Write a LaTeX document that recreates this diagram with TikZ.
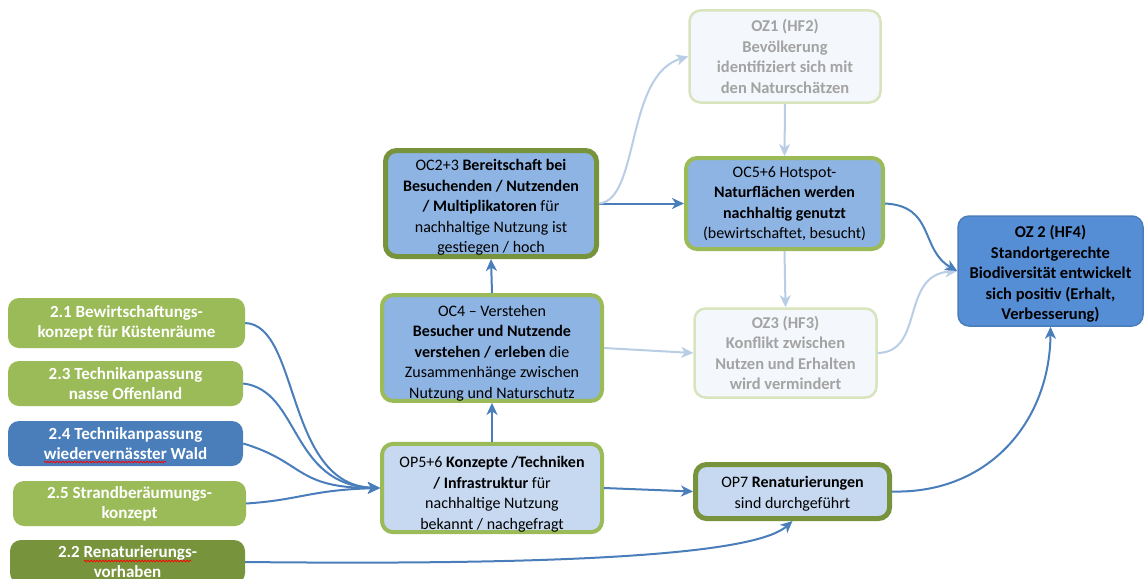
\documentclass[tikz,border=0pt]{standalone}
\usepackage{fontspec}
\setmainfont{Carlito}
\usetikzlibrary{arrows.meta,decorations.pathmorphing}

\definecolor{lgreen}{HTML}{9BBB59}
\definecolor{dgreen}{HTML}{77933C}
\definecolor{midblue}{HTML}{8EB4E3}
\definecolor{paleblue}{HTML}{C6D9F1}
\definecolor{goalblue}{HTML}{558ED5}
\definecolor{goaledge}{HTML}{4A7EBB}
\definecolor{fadefill}{HTML}{F4F7FB}
\definecolor{fadeedge}{HTML}{D7E4BD}
\definecolor{fadetext}{HTML}{A3A3A3}
\definecolor{arrdark}{HTML}{4A7EBB}
\definecolor{arrlight}{HTML}{B9CDE5}

% a tall invisible strut on the first line pushes a text block lower in its box
\newcommand{\topstrut}[1]{\rule{0pt}{#1}}

\tikzset{
  box/.style={rounded corners=11pt, align=center, inner xsep=1pt, inner ysep=0pt,
    font=\fontsize{16}{20.5}\selectfont},
  measure/.style={box, fill=lgreen, draw=none, text=white, font=\bfseries\fontsize{17}{20}\selectfont},
  measureblue/.style={measure, fill=goaledge},
  measuredark/.style={measure, fill=dgreen},
  outcome/.style={box, fill=midblue, draw=lgreen, line width=4pt},
  outcomedark/.style={box, fill=midblue, draw=dgreen, line width=5pt},
  output/.style={box, fill=paleblue, draw=lgreen, line width=4pt},
  outputdark/.style={box, fill=paleblue, draw=dgreen, line width=5pt},
  faded/.style={box, fill=fadefill, draw=fadeedge, line width=2.5pt, text=fadetext, font=\bfseries\fontsize{16.5}{20.5}\selectfont},
  goal/.style={box, fill=goalblue, draw=goaledge, line width=1.5pt, font=\bfseries\fontsize{16.5}{20.5}\selectfont},
  link/.style={draw=arrdark, line width=2pt, -{Stealth[length=12pt,width=11pt,inset=3.5pt]}},
  weaklink/.style={draw=arrlight, line width=2pt, -{Stealth[length=12pt,width=11pt,inset=3.5pt]}},
  spellwave/.style={draw=red, line width=0.7pt, decorate,
    decoration={snake, amplitude=0.9pt, segment length=3pt}},
}

\begin{document}
\begin{tikzpicture}[x=1pt,y=-1pt]
\useasboundingbox (0,0) rectangle (1147,578);
\clip (0,0) rectangle (1147,578);

% measures (left column)
\node[measure, minimum width=237pt, minimum height=50pt] (b21) at (126.5,323)
  {2.1 Bewirtschaftungs-\\konzept für Küstenräume};
\node[measure, minimum width=235pt, minimum height=45pt] (b23) at (125.5,383.5)
  {2.3 Technikanpassung\\nasse Offenland};
\node[measureblue, minimum width=235pt, minimum height=45pt] (b24) at (125.5,443.5)
  {2.4 Technikanpassung\\wiedervernässter Wald};
\node[measure, minimum width=233pt, minimum height=45pt] (b25) at (129.5,503.5)
  {2.5 Strandberäumungs-\\konzept};
\node[measuredark, minimum width=235pt, minimum height=44pt] (b22) at (127.5,562)
  {2.2 Renaturierungs-\\vorhaben};

% spell-checker underlines
\draw[spellwave] (44,462) -- (166,462);
\draw[spellwave] (84,561) -- (191,561);

% outputs and outcomes (middle)
\node[outputdark, minimum width=194pt, minimum height=54pt] (op7) at (792.5,491.5)
  {\topstrut{16pt}OP7 \textbf{Renaturierungen}\\sind durchgeführt};
\node[output, minimum width=220pt, minimum height=82pt] (op56) at (492,488)
  {\topstrut{24pt}OP5+6 \textbf{Konzepte /Techniken}\\\textbf{/ Infrastruktur} für\\nachhaltige Nutzung\\bekannt / nachgefragt};
\node[outcome, minimum width=220pt, minimum height=100pt] (oc4) at (492,348)
  {\topstrut{21pt}OC4 – Verstehen\\\textbf{Besucher und Nutzende}\\\textbf{verstehen / erleben} die\\Zusammenhänge zwischen\\Nutzung und Naturschutz};
\node[outcomedark, minimum width=211pt, minimum height=106pt] (oc23) at (491,203.5)
  {\topstrut{19pt}OC2+3 \textbf{Bereitschaft bei}\\\textbf{Besuchenden / Nutzenden}\\\textbf{/ Multiplikatoren} für\\nachhaltige Nutzung ist\\gestiegen / hoch};
\node[outcome, minimum width=197pt, minimum height=91pt] (oc56) at (784.5,203.5)
  {OC5+6 Hotspot-\\\textbf{Naturflächen werden}\\\textbf{nachhaltig genutzt}\\(bewirtschaftet, besucht)};

% goals
\node[faded, minimum width=191pt, minimum height=92pt] (oz1) at (785,56.5)
  {OZ1 (HF2)\\Bevölkerung\\identifiziert sich mit\\den Naturschätzen};
\node[faded, minimum width=182pt, minimum height=89pt] (oz3) at (785.5,353)
  {OZ3 (HF3)\\Konflikt zwischen\\Nutzen und Erhalten\\wird vermindert};
\node[goal, minimum width=185pt, minimum height=110pt] (oz2) at (1050.5,271)
  {\topstrut{18.5pt}OZ 2 (HF4)\\Standortgerechte\\Biodiversität entwickelt\\sich positiv (Erhalt,\\Verbesserung)};

% measures feeding the concepts
\draw[link] (b21.east) .. controls (300,325) and (285,485) .. (op56.west);
\draw[link] (b23.east) .. controls (300,390) and (290,485) .. (op56.west);
\draw[link] (b24.east) .. controls (305,462) and (295,488) .. (op56.west);
\draw[link] (b25.east) .. controls (300,500) and (310,490) .. (op56.west);
\draw[link] (b22.east) .. controls (620,566) and (760,550) .. (op7.south);

% chain through the middle column
\draw[link] (op56.north) -- (oc4.south);
\draw[link] (oc4.north) -- (oc23.south);
\draw[link] (oc23.east) -- (oc56.west);
\draw[link] (op56.east) -- (op7.west);
\draw[weaklink] (oc23.east) .. controls (640,200) and (625,75) .. (oz1.west);
\draw[weaklink] (oz1.south) -- (oc56.north);
\draw[weaklink] (oc56.south) -- (oz3.north);
\draw[weaklink] (oc4.east) -- (oz3.west);

% into the biodiversity goal
\draw[weaklink] (oz3.east) .. controls (925,352) and (900,275) .. (oz2.west);
\draw[link] (oc56.east) .. controls (935,206) and (920,250) .. (oz2.west);
\draw[link] (op7.east) .. controls (990,494) and (1050,420) .. (oz2.south);
\end{tikzpicture}
\end{document}
